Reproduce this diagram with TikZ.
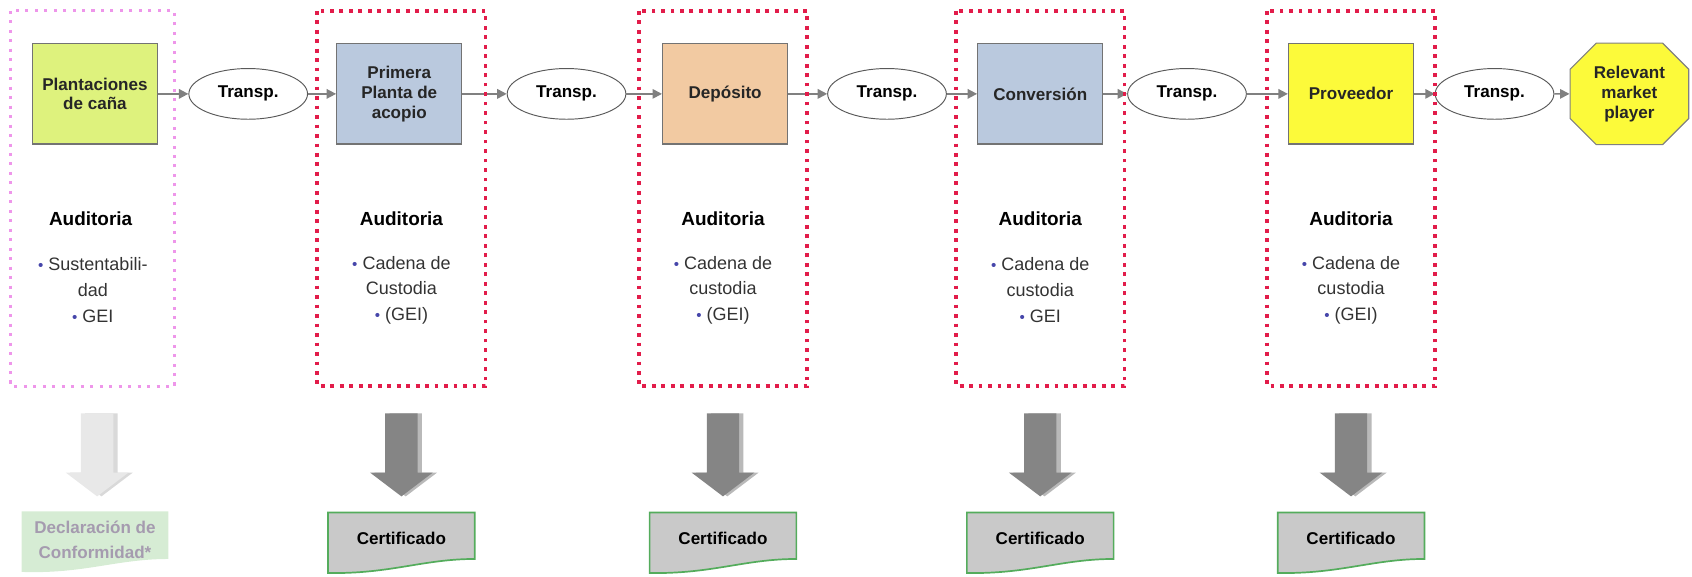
\documentclass[tikz,border=0pt]{standalone}
\usepackage{fontspec}
\setmainfont{Liberation Sans}
\usetikzlibrary{shapes.geometric,shapes.misc,arrows.meta,positioning}

\definecolor{cana}{RGB}{222,242,125}
\definecolor{acopio}{RGB}{186,201,222}
\definecolor{deposito}{RGB}{242,202,162}
\definecolor{amarillo}{RGB}{252,250,58}
\definecolor{rojo}{RGB}{226,28,74}
\definecolor{rosa}{RGB}{238,150,234}
\definecolor{punto}{RGB}{70,70,170}
\definecolor{verde}{RGB}{84,172,92}
\definecolor{verdeclaro}{RGB}{214,236,212}
\definecolor{gris}{RGB}{128,128,128}
\definecolor{tenue}{RGB}{165,155,175}

\newcommand{\bul}{{\color{punto}\footnotesize\textbullet}~}

\begin{document}
\begin{tikzpicture}[x=0.02cm,y=-0.02cm,
  etapa/.style={draw=black!55, line width=0.6pt, minimum width=2.32cm, minimum height=1.86cm,
    align=center, inner sep=1pt, text=black!85, font=\bfseries\fontsize{9}{10.5}\selectfont},
  transp/.style={ellipse, draw=black!65, line width=0.5pt, minimum width=2.2cm, minimum height=0.94cm,
    inner sep=0pt, font=\bfseries\fontsize{9}{10}\selectfont},
  mercado/.style={chamfered rectangle, chamfered rectangle xsep=0.36cm, draw=black!50, line width=0.6pt,
    fill=amarillo, minimum width=2.2cm, minimum height=1.88cm, align=center, inner sep=1pt,
    text=black!85, font=\bfseries\fontsize{9}{10.5}\selectfont},
  flujo/.style={draw=gris, line width=0.9pt, -{Triangle[length=5pt,width=5pt]}},
  marco/.style={draw=rojo, line width=2pt, dash pattern=on 2pt off 3pt},
  marcoclaro/.style={draw=rosa, line width=1.6pt, dash pattern=on 1.6pt off 3.4pt},
  titulo/.style={font=\bfseries\fontsize{10}{12}\selectfont},
  lista/.style={align=center, text=black!80, font=\fontsize{9.5}{13.6}\selectfont},
  doc/.style={align=center, font=\bfseries\fontsize{9}{13}\selectfont}
]
  \useasboundingbox (0,0) rectangle (1568,534);

  % cadena de suministro
  \node[etapa, fill=cana] (cana) at (88,87) {Plantaciones\\de caña};
  \node[transp] (t1) at (230,87) {Transp.};
  \node[etapa, fill=acopio] (acopio) at (370,87) {Primera\\Planta de\\acopio};
  \node[transp] (t2) at (525,87) {Transp.};
  \node[etapa, fill=deposito] (deposito) at (672,87) {Depósito};
  \node[transp] (t3) at (822,87) {Transp.};
  \node[etapa, fill=acopio] (conversion) at (964,87) {Conversión};
  \node[transp] (t4) at (1100,87) {Transp.};
  \node[etapa, fill=amarillo] (proveedor) at (1252,87) {Proveedor};
  \node[transp] (t5) at (1385,87) {Transp.};
  \node[mercado] (mercado) at (1510,87) {Relevant\\market\\player};

  \foreach \a/\b in {cana/t1,t1/acopio,acopio/t2,t2/deposito,deposito/t3,t3/conversion,
                     conversion/t4,t4/proveedor,proveedor/t5,t5/mercado}
    \draw[flujo] (\a) -- (\b);

  % plantaciones
  \draw[marcoclaro] (10,10) rectangle (162,358);
  \node[titulo] (aud0) at (84,203) {Auditoria};
  \node[lista] (lista0) at (86,269) {\bul Sustentabili-\\dad\\\bul GEI};
  \fill[gray!30] (79,383) -- (109,383) -- (109,438) -- (123,438) -- (94,460) -- (65,438) -- (79,438) -- cycle;
  \fill[gray!18] (75,383) -- (105,383) -- (105,438) -- (119,438) -- (90,460) -- (61,438) -- (75,438) -- cycle;
  \fill[verdeclaro] (20,474) -- (156,474) -- (156,518) .. controls (108,518) and (78,532) .. (20,530) -- cycle;
  \node[doc, text=tenue] (decl) at (88,500) {Declaración de\\Conformidad*};

  % etapas certificadas
  \foreach \x/\n/\c/\g in {372/1/Custodia/{(GEI)},670/2/custodia/{(GEI)},964/3/custodia/GEI,1252/4/custodia/{(GEI)}} {
    \draw[marco] (\x-78,10) rectangle (\x+78,358);
    \node[titulo] (aud\n) at (\x,203) {Auditoria};
    \node[lista] (lista\n) at (\x,269) {\bul Cadena de\\\c\\\bul \g};
    \fill[gray!55] (\x-11,383) -- (\x+19,383) -- (\x+19,438) -- (\x+33,438) -- (\x+4,460) -- (\x-25,438) -- (\x-11,438) -- cycle;
    \fill[black!48] (\x-15,383) -- (\x+15,383) -- (\x+15,438) -- (\x+29,438) -- (\x,460) -- (\x-29,438) -- (\x-15,438) -- cycle;
    \draw[draw=verde, line width=0.9pt, fill=black!21] (\x-68,475) -- (\x+68,475) -- (\x+68,518)
      .. controls (\x+20,518) and (\x-10,532) .. (\x-68,531) -- cycle;
    \node[doc] (cert\n) at (\x,499) {Certificado};
  }
\end{tikzpicture}
\end{document}
